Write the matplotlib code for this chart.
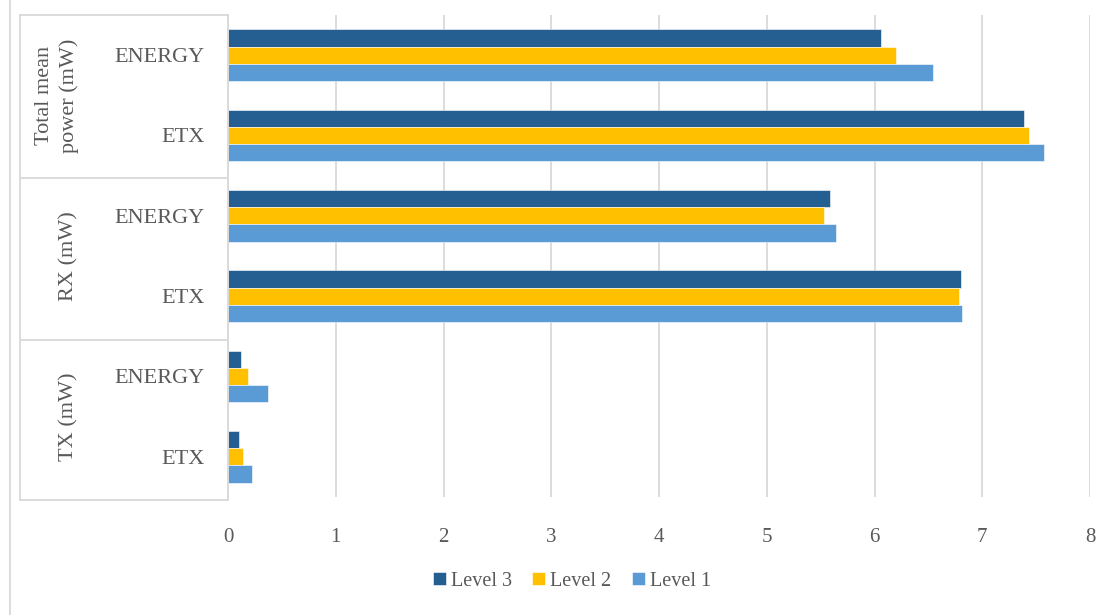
import numpy as np
import matplotlib.pyplot as plt
from matplotlib.lines import Line2D
from matplotlib.transforms import blended_transform_factory

# data, top to bottom as drawn
groups = ["Total mean\npower (mW)", "RX (mW)", "TX (mW)"]
categories = ["ENERGY", "ETX", "ENERGY", "ETX", "ENERGY", "ETX"]
level3 = [6.06, 7.39, 5.59, 6.80, 0.12, 0.10]
level2 = [6.20, 7.43, 5.53, 6.78, 0.19, 0.14]
level1 = [6.54, 7.57, 5.64, 6.81, 0.37, 0.22]
series_names = ["Level 3", "Level 2", "Level 1"]
colors = ["#255E91", "#FFC000", "#5B9BD5"]

plt.rcParams["font.family"] = ["Liberation Serif", "DejaVu Serif"]
txt = "#595959"
grid_c = "#D9D9D9"

fig = plt.figure(figsize=(10.97, 6.15), dpi=100)
W, H = 1097, 615
ax = fig.add_axes([228 / W, 1 - 497 / H, (1090 - 228) / W, (497 - 15) / H])

n = len(categories)
y = np.arange(n)
bh = 0.215
for k, (vals, name, c) in enumerate(zip([level3, level2, level1], series_names, colors)):
    ax.barh(y + (k - 1) * bh, vals, height=bh, color=c, label=name,
            edgecolor="white", linewidth=0.4)

ax.set_ylim(n - 0.5, -0.5)
ax.set_xlim(0, 8)
ax.set_xticks(range(9))
ax.set_yticks(y)
ax.set_yticklabels(categories)
ax.tick_params(axis="y", length=0, pad=17, labelsize=16, labelcolor=txt)
ax.tick_params(axis="x", length=0, pad=22, labelsize=15, labelcolor=txt)
ax.grid(axis="x", color=grid_c, linewidth=1.3)
ax.set_axisbelow(True)
for s in ["top", "right", "bottom"]:
    ax.spines[s].set_visible(False)
ax.spines["left"].set_color(grid_c)
ax.spines["left"].set_linewidth(1.3)

# category group box on the left
def fl(x0, y0, x1, y1):
    fig.add_artist(Line2D([x0 / W, x1 / W], [1 - y0 / H, 1 - y1 / H],
                          color=grid_c, linewidth=1.3))

for yy in [15, 178, 340, 500]:
    fl(20, yy, 228, yy)
fl(20, 15, 20, 500)
fl(228, 497, 228, 500)
fl(10, 0, 10, 615)

trans = blended_transform_factory(fig.transFigure, ax.transData)
group_x = [57, 69, 69]
for g, name in enumerate(groups):
    ax.text(group_x[g] / W, 2 * g + 0.5, name, transform=trans, rotation=90,
            ha="center", va="center", fontsize=16, color=txt,
            multialignment="center", linespacing=1.3)

fig.legend(loc="center", bbox_to_anchor=(572 / W, 1 - 581 / H), ncol=3,
           frameon=False, fontsize=14.5, labelcolor=txt, handlelength=0.65,
           handleheight=0.65, handletextpad=0.25, columnspacing=1.0)

fig.savefig("out.png", dpi=100, facecolor="white")
